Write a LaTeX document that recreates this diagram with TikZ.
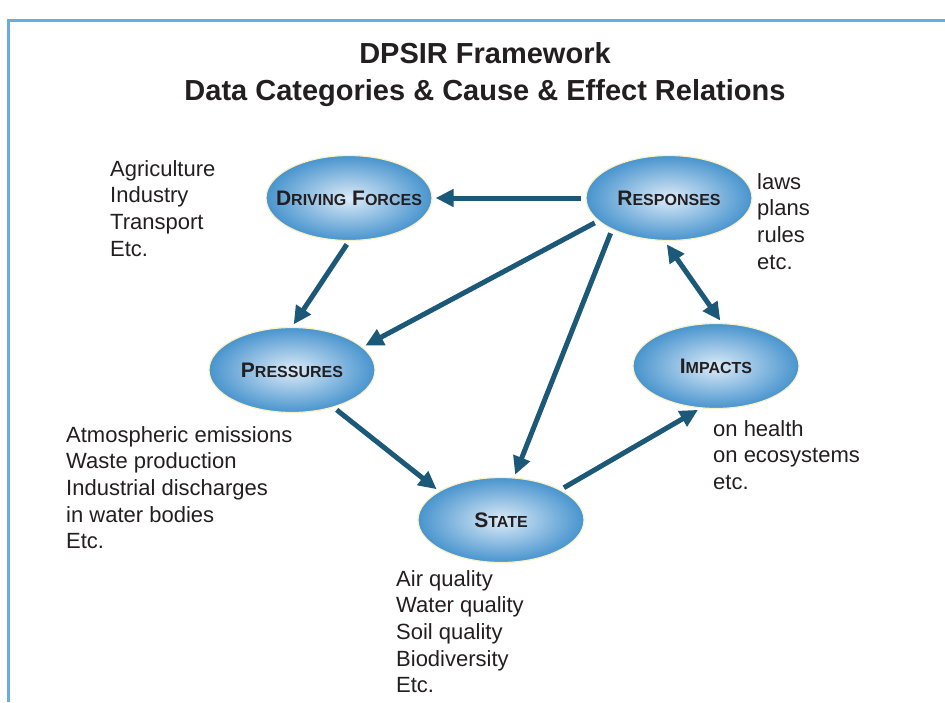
\documentclass[tikz,border=0pt]{standalone}
\usepackage{fontspec}
\setmainfont{Liberation Sans}
\usepackage{tikz}
\usetikzlibrary{shapes.geometric,arrows.meta}

\definecolor{ovalblue}{RGB}{72,148,206}
\definecolor{ovallight}{RGB}{220,235,248}
\definecolor{ovalrim}{RGB}{250,242,196}
\definecolor{arrowteal}{RGB}{28,88,120}
\definecolor{textdark}{RGB}{35,31,32}
\definecolor{frameblue}{RGB}{105,172,222}

\newcommand{\smallcap}[1]{{\fontsize{16}{18}\selectfont #1}}

\begin{document}
\begin{tikzpicture}[x=1pt, y=-1pt,
  oval/.style={ellipse, minimum width=166pt, minimum height=85pt, inner sep=0pt,
    shade, shading=radial, inner color=ovallight, outer color=ovalblue,
    draw=ovalrim, line width=1.2pt},
  ovaltext/.style={font=\fontsize{21}{24}\selectfont\bfseries, text=textdark},
  listtext/.style={anchor=north west, inner sep=0pt, align=left,
    font=\fontsize{22}{26.7}\selectfont, text=textdark},
  link/.style={line width=5pt, arrowteal, -{Triangle[length=18pt,width=17pt]},
    shorten >=3pt, shorten <=4pt}]
  \useasboundingbox (0,0) rectangle (945,702);
  \draw[frameblue, line width=3pt] (945,20) -- (8,20) -- (8,702);

  % title
  \node[anchor=north, inner sep=0pt, align=center, text=textdark,
    font=\fontsize{29}{37}\selectfont\bfseries] (title) at (485,42)
    {DPSIR Framework\\Data Categories \& Cause \& Effect Relations};

  % the five ovals
  \node[oval, label={[ovaltext]center:D\smallcap{RIVING} F\smallcap{ORCES}}] (drive) at (349,198) {};
  \node[oval, label={[ovaltext]center:R\smallcap{ESPONSES}}] (resp) at (669,198) {};
  \node[oval, label={[ovaltext]center:P\smallcap{RESSURES}}] (pres) at (292,370) {};
  \node[oval, label={[ovaltext]center:I\smallcap{MPACTS}}] (imp) at (716,366) {};
  \node[oval, label={[ovaltext]center:S\smallcap{TATE}}] (state) at (501,520) {};

  % data lists
  \node[listtext] (drivelist) at (110,160) {Agriculture\\Industry\\Transport\\Etc.};
  \node[listtext] (resplist) at (757,173) {laws\\plans\\rules\\etc.};
  \node[listtext] (preslist) at (66,426) {Atmospheric emissions\\Waste production\\Industrial discharges\\in water bodies\\Etc.};
  \node[listtext] (implist) at (713,420) {on health\\on ecosystems\\etc.};
  \node[listtext] (statelist) at (396,570) {Air quality\\Water quality\\Soil quality\\Biodiversity\\Etc.};

  % cause and effect
  \draw[link] (resp.west) -- (drive.east);
  \draw[link] (drive.south) -- (pres.north);
  \draw[link] (resp.198) -- (pres.18);
  \draw[link] (resp.209) -- (state.73);
  \draw[link] (pres.-42) -- (state.155);
  \draw[link] (state.27) -- (imp.-110);
  \draw[link, {Triangle[length=18pt,width=17pt]}-{Triangle[length=18pt,width=17pt]}] (resp.-96) -- (imp.82);
\end{tikzpicture}
\end{document}
